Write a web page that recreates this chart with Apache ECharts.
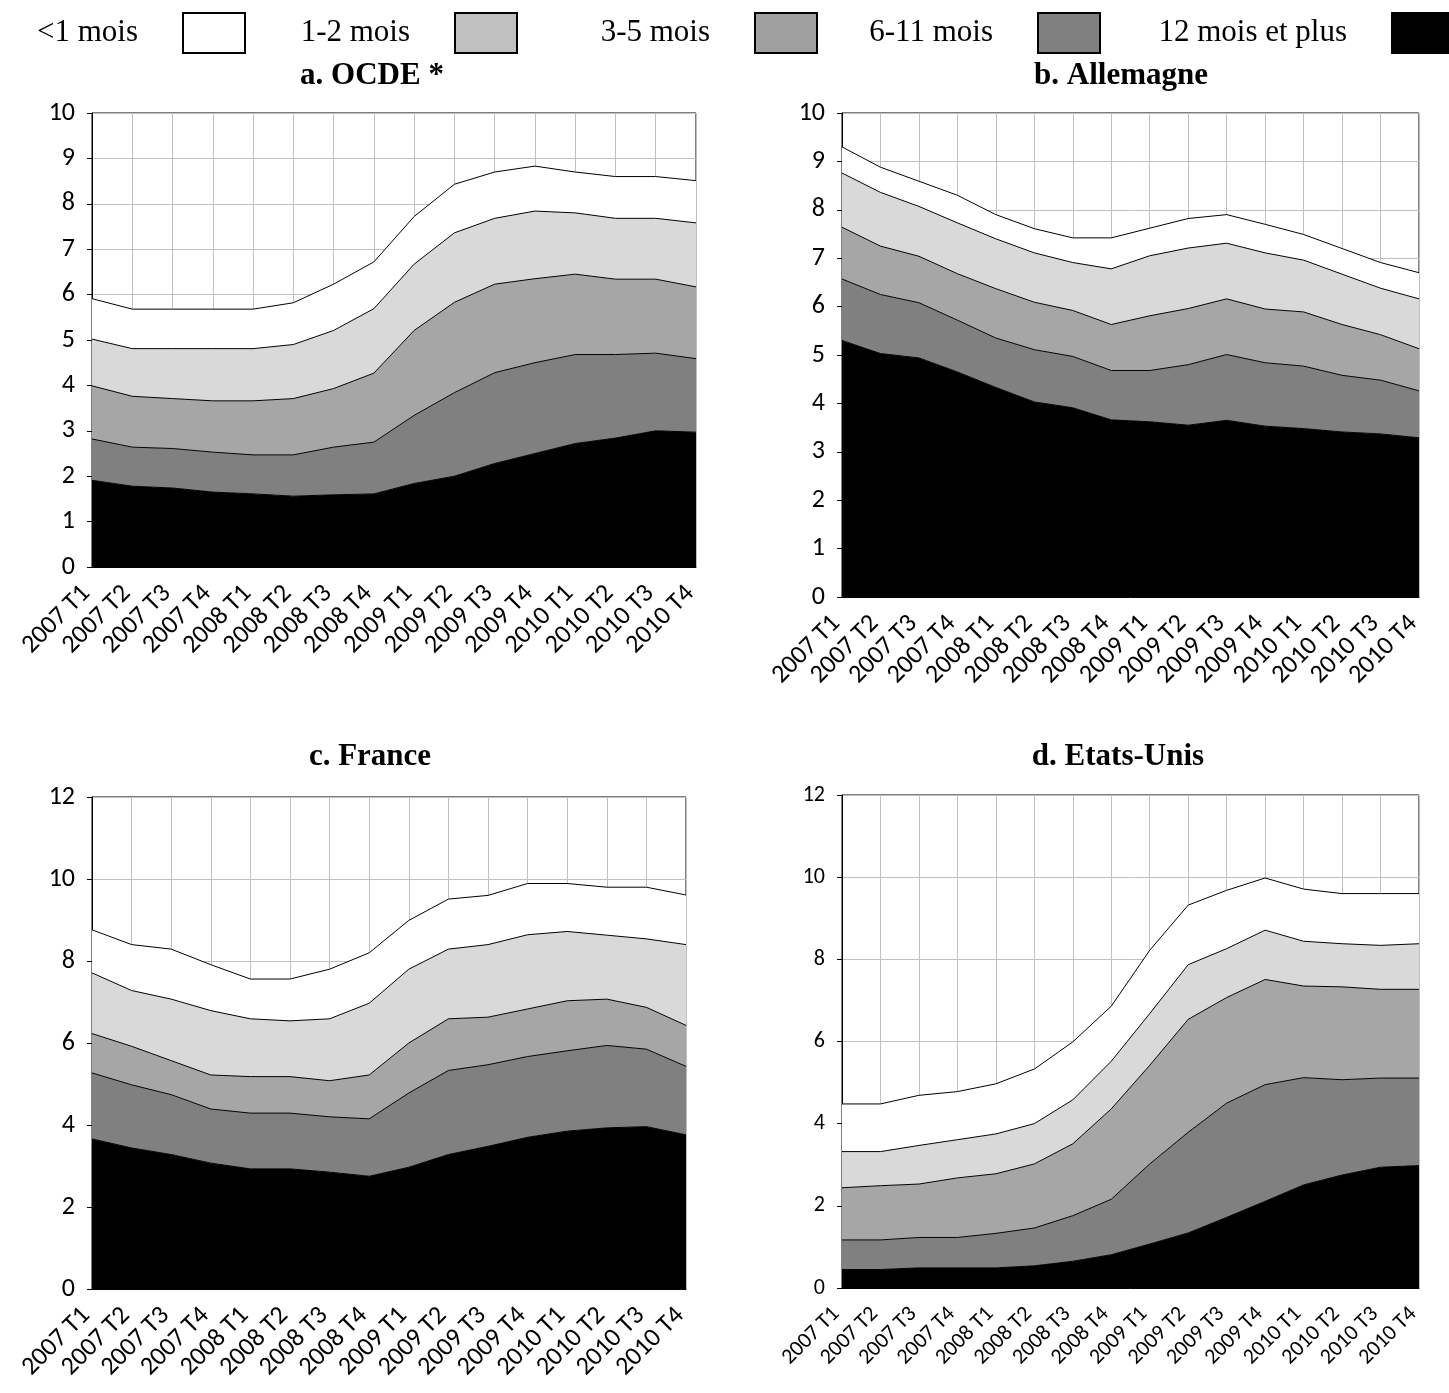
<!DOCTYPE html>
<html>
<head>
<meta charset="utf-8">
<script src="https://cdn.jsdelivr.net/npm/echarts@6/dist/echarts.min.js"></script>
<style>
  html, body { margin: 0; padding: 0; background: #ffffff; }
  #chart { width: 1449px; height: 1393px; }
</style>
</head>
<body>
<div id="chart"></div>
<script>
// Trimestres (axe des abscisses commun aux quatre panneaux)
const quarters = ['2007 T1','2007 T2','2007 T3','2007 T4','2008 T1','2008 T2','2008 T3','2008 T4',
                  '2009 T1','2009 T2','2009 T3','2009 T4','2010 T1','2010 T2','2010 T3','2010 T4'];

// Durées de chômage (du plus court au plus long)
const durations = ['<1 mois', '1-2 mois', '3-5 mois', '6-11 mois', '12 mois et plus'];

// a. OCDE * — taux de chômage par durée (points de pourcentage)
const ocdeMoins1 = [0.89,0.87,0.87,0.87,0.87,0.92,1.02,1.03,1.05,1.07,1.02,0.99,0.90,0.92,0.92,0.93];
const ocde1a2    = [1.03,1.05,1.10,1.15,1.15,1.19,1.28,1.42,1.46,1.53,1.45,1.49,1.35,1.34,1.34,1.41];
const ocde3a5    = [1.17,1.12,1.10,1.13,1.19,1.24,1.29,1.52,1.87,1.99,1.95,1.85,1.77,1.66,1.63,1.58];
const ocde6a11   = [0.91,0.86,0.87,0.88,0.86,0.91,1.05,1.14,1.50,1.84,2.00,2.00,1.96,1.84,1.71,1.62];
const ocde12plus = [1.91,1.78,1.74,1.65,1.61,1.56,1.59,1.61,1.84,2.00,2.28,2.50,2.72,2.84,3.00,2.97];

// b. Allemagne
const allMoins1 = [0.54,0.52,0.52,0.57,0.50,0.50,0.51,0.64,0.57,0.61,0.59,0.59,0.53,0.53,0.53,0.54];
const all1a2    = [1.12,1.11,1.03,1.05,1.03,1.02,0.99,1.15,1.24,1.25,1.15,1.16,1.07,1.04,0.96,1.03];
const all3a5    = [1.07,1.00,0.96,0.96,1.02,0.98,0.95,0.95,1.13,1.16,1.15,1.11,1.12,1.05,0.94,0.87];
const all6a11   = [1.27,1.22,1.14,1.07,1.02,1.08,1.06,1.02,1.06,1.25,1.36,1.31,1.29,1.17,1.11,0.97];
const all12plus = [5.30,5.03,4.94,4.65,4.33,4.03,3.91,3.66,3.62,3.55,3.65,3.53,3.48,3.41,3.37,3.29];

// c. France
const fraMoins1 = [1.05,1.12,1.22,1.12,0.97,1.02,1.21,1.23,1.19,1.22,1.20,1.25,1.17,1.17,1.26,1.21];
const fra1a2    = [1.48,1.36,1.50,1.57,1.41,1.36,1.51,1.75,1.80,1.70,1.77,1.81,1.69,1.56,1.67,1.97];
const fra3a5    = [0.96,0.94,0.83,0.83,0.89,0.89,0.88,1.07,1.22,1.26,1.16,1.16,1.22,1.13,1.02,1.00];
const fra6a11   = [1.61,1.54,1.46,1.32,1.36,1.36,1.35,1.40,1.81,2.05,1.99,1.97,1.96,2.01,1.89,1.67];
const fra12plus = [3.66,3.44,3.28,3.07,2.93,2.93,2.85,2.75,2.97,3.28,3.48,3.70,3.85,3.93,3.96,3.76];

// d. Etats-Unis
const usaMoins1 = [1.16,1.16,1.22,1.17,1.22,1.33,1.41,1.34,1.54,1.45,1.42,1.27,1.27,1.22,1.26,1.22];
const usa1a2    = [0.88,0.83,0.94,0.93,0.97,0.98,1.07,1.16,1.26,1.33,1.19,1.20,1.09,1.05,1.07,1.11];
const usa3a5    = [1.27,1.32,1.30,1.45,1.45,1.56,1.75,2.20,2.40,2.75,2.57,2.56,2.23,2.26,2.16,2.16];
const usa6a11   = [0.72,0.72,0.74,0.74,0.84,0.92,1.11,1.35,1.95,2.45,2.78,2.84,2.61,2.32,2.17,2.13];
const usa12plus = [0.45,0.45,0.49,0.49,0.49,0.54,0.65,0.81,1.07,1.34,1.72,2.11,2.51,2.75,2.94,2.98];

// Titres des panneaux et bornes des axes verticaux
const panelTitles = ['a. OCDE *', 'b. Allemagne', 'c. France', 'd. Etats-Unis'];
const yMax = [10, 10, 12, 12];
const yStep = [1, 1, 2, 2];

const panelData = [
  [ocdeMoins1, ocde1a2, ocde3a5, ocde6a11, ocde12plus],
  [allMoins1, all1a2, all3a5, all6a11, all12plus],
  [fraMoins1, fra1a2, fra3a5, fra6a11, fra12plus],
  [usaMoins1, usa1a2, usa3a5, usa6a11, usa12plus]
];

// Remplissage des aires et couleur des pastilles de légende
const areaColors   = ['#ffffff', '#d9d9d9', '#a6a6a6', '#808080', '#000000'];
const legendColors = ['#ffffff', '#c0c0c0', '#a0a0a0', '#808080', '#000000'];

// Placement des quatre zones de tracé
const grids = [
  { left: 92,  top: 113, width: 604, height: 454 },
  { left: 842, top: 113, width: 577, height: 484 },
  { left: 92,  top: 797, width: 594, height: 492 },
  { left: 842, top: 795, width: 577, height: 493 }
];
const titlePos = [ { x: 372, y: 60 }, { x: 1121, y: 60 }, { x: 370, y: 741 }, { x: 1118, y: 741 } ];
const labelSize = [26, 26, 26, 22];

const serif = '"Liberation Serif", "Times New Roman", serif';
const sans = 'Carlito, Calibri, Lato, "Open Sans", sans-serif';

// Légende : une entrée par durée, texte à gauche, pastille à droite
const legendRight = [1449 - 246, 1449 - 518, 1449 - 818, 1449 - 1101, -6];
const legends = durations.map((name, i) => ({
  right: legendRight[i],
  top: 12,
  padding: 0,
  orient: 'horizontal',
  align: 'right',
  itemWidth: 62,
  itemHeight: 40,
  selectedMode: false,
  formatter: '{t|{name}}',
  textStyle: {
    color: '#000',
    rich: { t: { fontFamily: serif, fontSize: 31, color: '#000', padding: [0, 40, 0, 0] } }
  },
  data: [{
    name: name,
    icon: 'rect',
    itemStyle: { color: legendColors[i], borderColor: '#000', borderWidth: 2 }
  }]
}));

const xAxes = grids.map((g, k) => ({
  type: 'category',
  gridIndex: k,
  data: quarters,
  boundaryGap: false,
  axisLine: { show: true, lineStyle: { color: '#000', width: 1 } },
  axisTick: { show: false },
  axisLabel: {
    interval: 0,
    rotate: 45,
    margin: 17,
    padding: [0, 8, 0, 0],
    fontFamily: sans,
    fontSize: labelSize[k],
    color: '#000'
  },
  splitLine: { show: true, lineStyle: { color: '#c0c0c0', width: 1 } }
}));

const yAxes = grids.map((g, k) => ({
  type: 'value',
  gridIndex: k,
  min: 0,
  max: yMax[k],
  interval: yStep[k],
  axisLine: { show: true, lineStyle: { color: '#000', width: 1 } },
  axisTick: { show: true, length: 5, lineStyle: { color: '#000' } },
  axisLabel: { margin: 17, fontFamily: sans, fontSize: labelSize[k], color: '#000' },
  splitLine: { show: true, lineStyle: { color: '#c0c0c0', width: 1 } }
}));

// Aires empilées : la durée la plus longue en bas
const series = [];
panelData.forEach((rows, k) => {
  for (let i = durations.length - 1; i >= 0; i--) {
    series.push({
      name: durations[i],
      type: 'line',
      xAxisIndex: k,
      yAxisIndex: k,
      stack: 'panel' + k,
      data: rows[i],
      symbol: 'none',
      showSymbol: false,
      smooth: false,
      lineStyle: { color: '#000', width: 1 },
      itemStyle: { color: legendColors[i] },
      areaStyle: { color: areaColors[i], opacity: 1 },
      emphasis: { disabled: true },
      silent: true,
      z: 2
    });
  }
});

const chart = echarts.init(document.getElementById('chart'), null, { renderer: 'canvas' });
chart.setOption({
  backgroundColor: '#ffffff',
  animation: false,
  title: panelTitles.map((t, k) => ({
    text: t,
    left: titlePos[k].x,
    top: titlePos[k].y,
    textAlign: 'center',
    padding: 0,
    textStyle: { fontFamily: serif, fontSize: 31, fontWeight: 'bold', color: '#000' }
  })),
  legend: legends,
  grid: grids.map(g => Object.assign({ show: true, borderColor: '#000', borderWidth: 1, backgroundColor: 'transparent', containLabel: false }, g)),
  xAxis: xAxes,
  yAxis: yAxes,
  series: series
});
</script>
</body>
</html>
